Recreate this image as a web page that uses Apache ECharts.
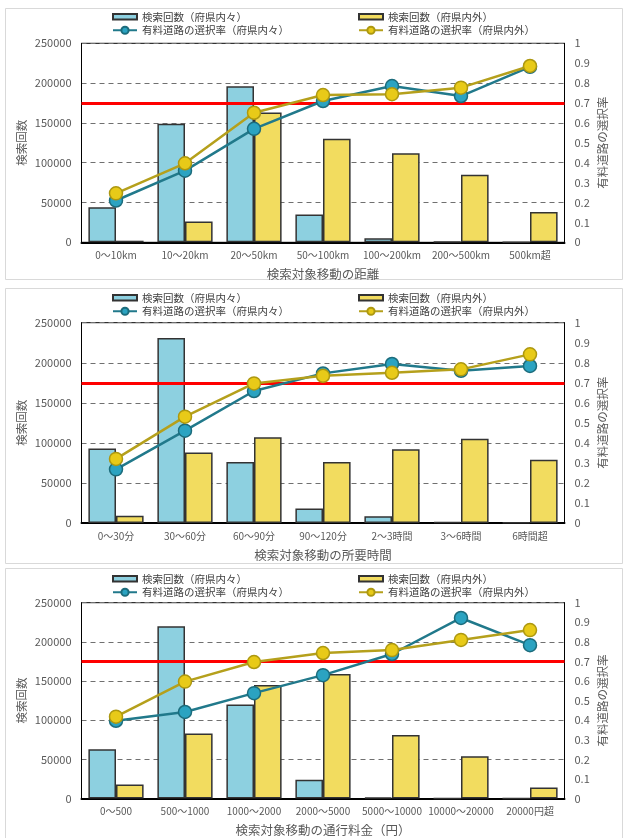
<!DOCTYPE html>
<html>
<head>
<meta charset="utf-8">
<script src="https://cdn.jsdelivr.net/npm/echarts@6/dist/echarts.min.js"></script>
<style>
  html, body { margin: 0; padding: 0; background: #fff; }
  #chart { width: 635px; height: 838px; }
</style>
</head>
<body>
<div id="chart"></div>
<script>
// Series names
const nameCountInner = '検索回数（府県内々）';
const nameCountOuter = '検索回数（府県内外）';
const nameRateInner = '有料道路の選択率（府県内々）';
const nameRateOuter = '有料道路の選択率（府県内外）';
const countAxisName = '検索回数';
const rateAxisName = '有料道路の選択率';

// Reference level for the toll-road choice rate
const targetRate = 0.7;

// 1) By distance
const distanceAxisName = '検索対象移動の距離';
const distanceCategories = ['0～10km', '10～20km', '20～50km', '50～100km', '100～200km', '200～500km', '500km超'];
const distanceCountInner = [44000, 149000, 196000, 35000, 5000, 600, 300];
const distanceCountOuter = [2000, 26000, 163000, 130000, 112000, 85000, 38000];
const distanceRateInner = [0.21, 0.36, 0.57, 0.71, 0.785, 0.735, 0.882];
const distanceRateOuter = [0.246, 0.397, 0.651, 0.74, 0.744, 0.777, 0.886];

// 2) By travel time
const timeAxisName = '検索対象移動の所要時間';
const timeCategories = ['0～30分', '30～60分', '60～90分', '90～120分', '2～3時間', '3～6時間', '6時間超'];
const timeCountInner = [93000, 231000, 76000, 18000, 8500, 1500, 500];
const timeCountOuter = [9000, 88000, 107000, 76000, 92000, 105000, 79000];
const timeRateInner = [0.268, 0.461, 0.659, 0.747, 0.794, 0.76, 0.784];
const timeRateOuter = [0.32, 0.531, 0.697, 0.735, 0.75, 0.767, 0.842];

// 3) By toll fee
const feeAxisName = '検索対象移動の通行料金（円）';
const feeCategories = ['0～500', '500～1000', '1000～2000', '2000～5000', '5000～10000', '10000～20000', '20000円超'];
const feeCountInner = [63000, 220000, 120000, 24000, 1200, 300, 200];
const feeCountOuter = [18000, 83000, 145000, 159000, 81000, 54000, 14000];
const feeRateInner = [0.397, 0.442, 0.538, 0.63, 0.738, 0.922, 0.783];
const feeRateOuter = [0.418, 0.597, 0.697, 0.743, 0.758, 0.81, 0.86];

const panels = [
  { axisName: distanceAxisName, cats: distanceCategories, ci: distanceCountInner, co: distanceCountOuter, ri: distanceRateInner, ro: distanceRateOuter },
  { axisName: timeAxisName, cats: timeCategories, ci: timeCountInner, co: timeCountOuter, ri: timeRateInner, ro: timeRateOuter },
  { axisName: feeAxisName, cats: feeCategories, ci: feeCountInner, co: feeCountOuter, ri: feeRateInner, ro: feeRateOuter }
];

// Panel frames, plot areas and legend placement
const layout = [
  { frameTop: 8, frameH: 271, gridTop: 43.3, gridH: 199, legendTop: 11 },
  { frameTop: 288, frameH: 275, gridTop: 322.7, gridH: 200.3, legendTop: 292 },
  { frameTop: 568, frameH: 275, gridTop: 602.7, gridH: 200, legendTop: 573 }
];

const FONT = "'Noto Sans CJK JP', 'Noto Sans', sans-serif";
const TICK = '#595959';
const BLUE_BAR = '#8dd0e0';
const YELLOW_BAR = '#f2dc5f';
const BLUE_LINE = '#21798b';
const BLUE_DOT = '#2ba3c1';
const YELLOW_LINE = '#b5a01c';
const YELLOW_DOT = '#e8ca18';
const BAR_ICON = 'path://M0 0H26V6H0Z';

const grids = [], xAxes = [], yAxes = [], series = [], legends = [], graphics = [];

panels.forEach((p, i) => {
  const L = layout[i];
  graphics.push({
    type: 'rect', silent: true, z: -10,
    shape: { x: 5.5, y: L.frameTop + 0.5, width: 617, height: L.frameH },
    style: { fill: 'none', stroke: '#d9d9d9', lineWidth: 1 }
  });
  grids.push({
    left: 81.5, width: 483, top: L.gridTop, height: L.gridH,
    show: true, borderColor: '#000', borderWidth: 1, backgroundColor: 'transparent'
  });
  xAxes.push({
    type: 'category', gridIndex: i, data: p.cats,
    axisTick: { show: false },
    axisLine: { lineStyle: { color: '#000', width: 2 } },
    axisLabel: { interval: 0, fontSize: 10, color: TICK, margin: 8, fontFamily: FONT },
    name: p.axisName, nameLocation: 'middle', nameGap: 26,
    nameTextStyle: { fontSize: 12.5, color: TICK, fontFamily: FONT }
  });
  yAxes.push({
    type: 'value', gridIndex: i, position: 'left',
    min: 0, max: 250000, interval: 50000,
    axisLine: { show: true, lineStyle: { color: '#000', width: 1 } },
    axisTick: { show: false },
    axisLabel: { fontSize: 11, color: TICK, margin: 10, fontFamily: FONT, formatter: (v) => String(v) },
    splitLine: { show: true, lineStyle: { color: '#707070', type: [5, 4], width: 1 } },
    name: countAxisName, nameLocation: 'middle', nameGap: 54, nameMoveOverlap: false,
    nameTextStyle: { fontSize: 11.5, color: TICK, fontFamily: FONT }
  });
  yAxes.push({
    type: 'value', gridIndex: i, position: 'right',
    min: 0, max: 1, interval: 0.1,
    axisLine: { show: true, lineStyle: { color: '#000', width: 1 } },
    axisTick: { show: false },
    axisLabel: { fontSize: 11, color: TICK, margin: 10, fontFamily: FONT },
    splitLine: { show: false },
    name: rateAxisName, nameLocation: 'middle', nameGap: 32, nameMoveOverlap: false,
    nameTextStyle: { fontSize: 11.5, color: TICK, fontFamily: FONT }
  });

  const barStyle = (c) => ({ color: c, borderColor: '#333', borderWidth: 1.5 });
  series.push({
    type: 'bar', name: nameCountInner, xAxisIndex: i, yAxisIndex: 2 * i,
    data: p.ci, barGap: '0%', barCategoryGap: '20%', itemStyle: barStyle(BLUE_BAR), z: 2
  });
  series.push({
    type: 'bar', name: nameCountOuter, xAxisIndex: i, yAxisIndex: 2 * i,
    data: p.co, barGap: '0%', barCategoryGap: '20%', itemStyle: barStyle(YELLOW_BAR), z: 2
  });
  series.push({
    type: 'line', name: nameRateInner, xAxisIndex: i, yAxisIndex: 2 * i + 1,
    data: p.ri, symbol: 'circle', symbolSize: 13, z: 10,
    lineStyle: { color: BLUE_LINE, width: 2.5 },
    itemStyle: { color: BLUE_DOT, borderColor: '#1c6c7c', borderWidth: 1.5 },
    markLine: {
      silent: true, symbol: 'none', z: 4, animation: false,
      label: { show: false },
      lineStyle: { color: '#ff0000', width: 3, type: 'solid' },
      data: [{ yAxis: targetRate }]
    }
  });
  series.push({
    type: 'line', name: nameRateOuter, xAxisIndex: i, yAxisIndex: 2 * i + 1,
    data: p.ro, symbol: 'circle', symbolSize: 13, z: 11,
    lineStyle: { color: YELLOW_LINE, width: 2.5 },
    itemStyle: { color: YELLOW_DOT, borderColor: '#ad9810', borderWidth: 1.5 }
  });

  const legendBase = {
    orient: 'vertical', top: L.legendTop - 1, padding: 0, itemWidth: 24, itemHeight: 9, itemGap: 0,
    selectedMode: false,
    textStyle: { fontSize: 10.5, color: '#404040', fontFamily: FONT, lineHeight: 13.5 }
  };
  legends.push(Object.assign({}, legendBase, {
    left: 112,
    data: [{ name: nameCountInner, icon: BAR_ICON }, { name: nameRateInner }]
  }));
  legends.push(Object.assign({}, legendBase, {
    left: 358,
    data: [{ name: nameCountOuter, icon: BAR_ICON }, { name: nameRateOuter }]
  }));
});

const chart = echarts.init(document.getElementById('chart'), null, { renderer: 'canvas' });
chart.setOption({
  animation: false,
  backgroundColor: '#fff',
  textStyle: { fontFamily: FONT },
  graphic: graphics,
  legend: legends,
  grid: grids,
  xAxis: xAxes,
  yAxis: yAxes,
  series: series
});
</script>
</body>
</html>
